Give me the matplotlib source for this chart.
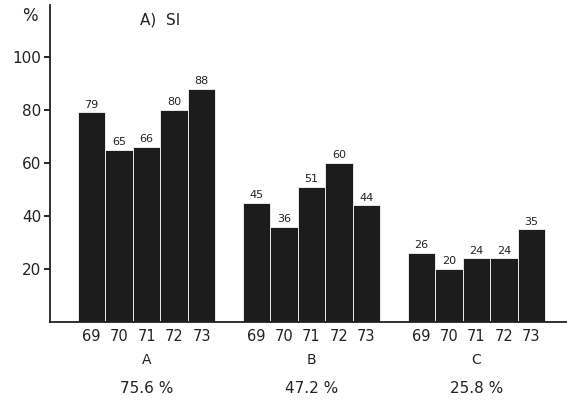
import numpy as np
import matplotlib
matplotlib.use('Agg')
import matplotlib.pyplot as plt

# date
years = ['69', '70', '71', '72', '73']
groups = ['A', 'B', 'C']
group_pct = ['75.6 %', '47.2 %', '25.8 %']
vals_a = [79, 65, 66, 80, 88]
vals_b = [45, 36, 51, 60, 44]
vals_c = [26, 20, 24, 24, 35]
yticks = [20, 40, 60, 80, 100]

fig = plt.figure(figsize=(5.67, 4.01), dpi=100)
ax = fig.add_axes([0.088, 0.197, 0.912, 0.791])

xs_all = []
for g, vals in enumerate([vals_a, vals_b, vals_c]):
    xs = np.arange(len(vals)) + g * 6
    xs_all.extend(xs)
    ax.bar(xs, vals, width=1.0, color='#1c1c1c', edgecolor='#e8e8e8', linewidth=0.7)
    for x, v in zip(xs, vals):
        ax.text(x, v + 1.0, str(v), ha='center', va='bottom', fontsize=8, color='#222')
    ax.text(xs.mean(), -14.5, groups[g], ha='center', va='center', fontsize=10, color='#222')
    ax.text(xs.mean(), -25, group_pct[g], ha='center', va='center', fontsize=11, color='#222')

ax.set_xlim(-1.52, 17.3)
ax.set_ylim(0, 119.6)
ax.set_xticks(xs_all)
ax.set_xticklabels(years * 3, fontsize=10.5, color='#222')
ax.tick_params(axis='x', length=0, pad=5)
ax.set_yticks(yticks)
ax.set_yticklabels([str(t) for t in yticks], fontsize=11, color='#222')
ax.tick_params(axis='y', length=4, width=1.2, direction='out', pad=2)
for s in ['top', 'right']:
    ax.spines[s].set_visible(False)
for s in ['left', 'bottom']:
    ax.spines[s].set_linewidth(1.3)
    ax.spines[s].set_color('#222')

fig.text(30 / 567, 1 - 16 / 401, '%', fontsize=12, ha='center', va='center', color='#222')
fig.text(140 / 567, 1 - 20 / 401, 'A)  SI', fontsize=11, ha='left', va='center', color='#222')

fig.savefig('out.png', dpi=100)
